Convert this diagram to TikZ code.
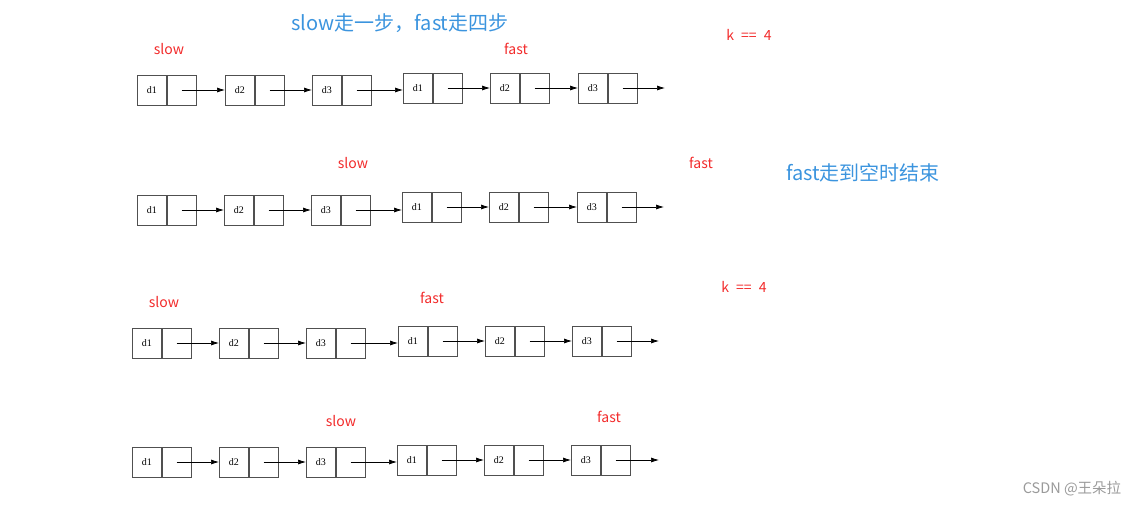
\documentclass[tikz,border=0pt]{standalone}
\usepackage{fontspec}
\setmainfont{Liberation Serif}
\newfontfamily\cjk{Noto Sans CJK SC}
\usetikzlibrary{positioning,arrows.meta}
\definecolor{redlbl}{HTML}{F22B2B}
\definecolor{bluelbl}{HTML}{3B94DE}
\definecolor{cellline}{HTML}{505050}
\definecolor{wmark}{HTML}{9A9A9A}

\begin{document}
\begin{tikzpicture}[x=1pt,y=-1pt,
  cell/.style={draw=cellline,line width=0.8pt,minimum width=29pt,minimum height=30pt,inner sep=0pt,font=\fontsize{10}{12}\selectfont},
  link/.style={-{Latex[length=8pt,width=5pt]},line width=0.7pt},
  ptr/.style={text=redlbl,font=\cjk\fontsize{14}{16}\selectfont},
  note/.style={text=bluelbl,font=\cjk\fontsize{20}{24}\selectfont}]
\useasboundingbox (0,0) rectangle (1137,506);
% four snapshots of the same list
\foreach \r/\ya/\yb/\xs/\xend in {1/90/88/{137,225,312,403,490,578}/665,
                                  2/210/207/{137,224,311,402,489,577}/664,
                                  3/343/341/{132,219,306,398,485,572}/659,
                                  4/462/460/{132,219,306,397,484,571}/659}{
  \foreach \x [count=\i] in \xs {
    \pgfmathsetmacro\yy{\i<4 ? \ya : \yb}
    \pgfmathtruncatemacro\k{mod(\i-1,3)+1}
    \node[cell,anchor=west] (d\r-\i) at (\x,\yy) {d\k};
    \node[cell,right=0pt of d\r-\i] (n\r-\i) {};
  }
  \foreach \i/\j in {1/2,2/3,3/4,4/5,5/6}
    \draw[link] (n\r-\i.center) -- (n\r-\i.center -| d\r-\j.west);
  \coordinate (e\r) at (\xend,\yb);
  \draw[link] (n\r-6.center) -- (e\r);
}
\node[note] (title) at (400,23) {slow走一步，fast走四步};
\node[note] (stop) at (863,173) {fast走到空时结束};
\node[ptr] (slow1) at (169,49) {slow};
\node[ptr] (fast1) at (516,49) {fast};
\node[ptr] (k1) at (749,35) {k\enspace==\enspace4};
\node[ptr] (slow2) at (353,163) {slow};
\node[ptr] (fast2) at (701,163) {fast};
\node[ptr] (slow3) at (164,302) {slow};
\node[ptr] (fast3) at (432,298) {fast};
\node[ptr] (k3) at (744,287) {k\enspace==\enspace4};
\node[ptr] (slow4) at (341,421) {slow};
\node[ptr] (fast4) at (609,417) {fast};
\node[text=wmark,font=\cjk\fontsize{14.5}{16}\selectfont] (csdn) at (1072,489) {CSDN @王朵拉};
\end{tikzpicture}
\end{document}
